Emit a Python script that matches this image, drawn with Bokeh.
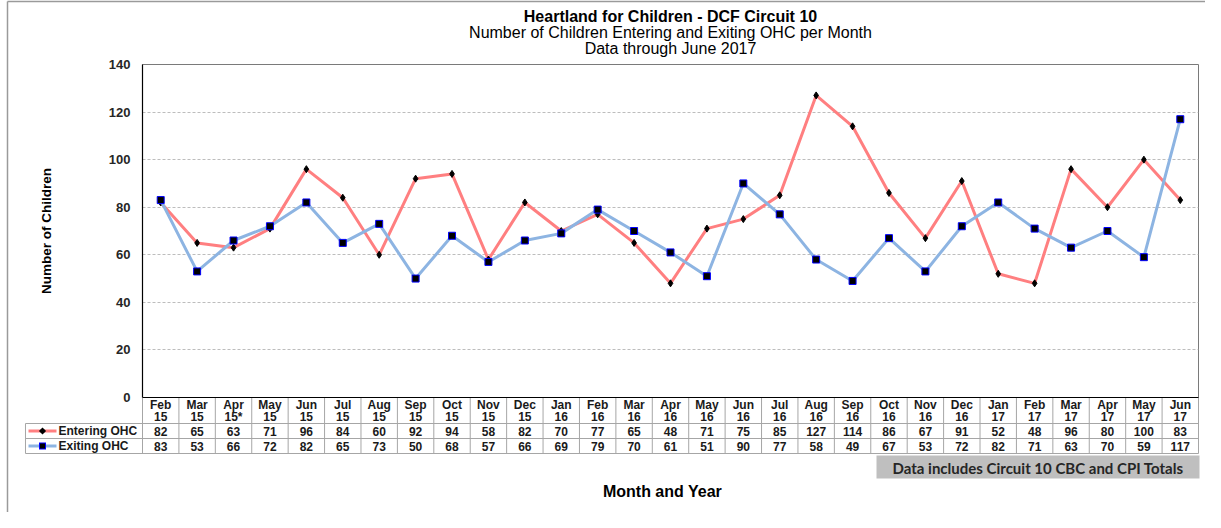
import math
from bokeh.plotting import figure
from bokeh.models import Range1d, FactorRange, ColumnDataSource
from bokeh.embed import file_html
from bokeh.resources import INLINE
from bokeh.core.properties import value

# ---------------- data ----------------
months = ["Feb 15", "Mar 15", "Apr 15*", "May 15", "Jun 15", "Jul 15", "Aug 15", "Sep 15",
          "Oct 15", "Nov 15", "Dec 15", "Jan 16", "Feb 16", "Mar 16", "Apr 16", "May 16",
          "Jun 16", "Jul 16", "Aug 16", "Sep 16", "Oct 16", "Nov 16", "Dec 16", "Jan 17",
          "Feb 17", "Mar 17", "Apr 17", "May 17", "Jun 17"]
entering = [82, 65, 63, 71, 96, 84, 60, 92, 94, 58, 82, 70, 77, 65, 48, 71, 75, 85,
            127, 114, 86, 67, 91, 52, 48, 96, 80, 100, 83]
exiting = [83, 53, 66, 72, 82, 65, 73, 50, 68, 57, 66, 69, 79, 70, 61, 51, 90, 77,
           58, 49, 67, 53, 72, 82, 71, 63, 70, 59, 117]
series_names = ["Entering OHC", "Exiting OHC"]
y_ticks = [0, 20, 40, 60, 80, 100, 120, 140]

title_lines = ["Heartland for Children - DCF Circuit 10",
               "Number of Children Entering and Exiting OHC per Month",
               "Data through June 2017"]
y_title = "Number of Children"
x_title = "Month and Year"
note = "Data includes Circuit 10 CBC and CPI Totals"

# ---------------- style / layout ----------------
FONT = "Liberation Sans"
RED = "#ff7f80"
BLUE = "#8db4e2"
GRID = "#bdbdbd"
TABLE_LINE = "#a6a6a6"
TXT = "#1a1a1a"

W, H = 1205, 512
XL, XR, YT, YB = 142, 1198, 64, 397   # plot frame in pixels
YMAX = 140
n = len(months)
col_px = (XR - XL) / n
y_px = (YB - YT) / YMAX


def px2x(px):
    return (px - XL) / col_px


def py2y(py):
    return (YB - py) / y_px


p = figure(width=W, height=H, x_range=FactorRange(*months), y_range=Range1d(0, YMAX),
           output_backend="svg", toolbar_location=None, title=None,
           x_axis_location=None,
           min_border_left=XL, min_border_right=W - XR,
           min_border_top=YT, min_border_bottom=H - YB)

p.outline_line_color = "#7a7a7a"
p.outline_line_width = 1
p.xgrid.grid_line_color = None
p.ygrid.grid_line_color = GRID
p.ygrid.grid_line_dash = "3 2"
p.ygrid.ticker = y_ticks
p.yaxis.ticker = y_ticks
p.yaxis.axis_line_color = "black"
p.yaxis.axis_line_width = 1.2
p.yaxis.major_tick_line_color = None
p.yaxis.minor_tick_line_color = None
p.yaxis.major_tick_out = 0
p.yaxis.major_tick_in = 0
p.yaxis.major_label_standoff = 12
p.yaxis.major_label_text_font = FONT
p.yaxis.major_label_text_font_style = "bold"
p.yaxis.major_label_text_font_size = "13px"
p.yaxis.major_label_text_color = "#262626"
p.yaxis.axis_label = y_title
p.yaxis.axis_label_text_font = FONT
p.yaxis.axis_label_text_font_style = "bold"
p.yaxis.axis_label_text_font_size = "13.5px"
p.yaxis.axis_label_text_color = "black"
p.yaxis.axis_label_standoff = 52

# ---------------- series ----------------
src = ColumnDataSource(dict(month=months, entering=entering, exiting=exiting))
p.line("month", "entering", source=src, line_color=RED, line_width=3)
p.scatter("month", "entering", source=src, marker="diamond", size=7,
          fill_color="black", line_color="black")
p.line("month", "exiting", source=src, line_color=BLUE, line_width=3)
p.scatter("month", "exiting", source=src, marker="square", size=7,
          fill_color="black", line_color="#0000ff", line_width=1)

OV = dict(level="overlay")

# ---------------- titles ----------------
for txt, style, py in [(title_lines[0], "bold", 16), (title_lines[1], "normal", 32),
                       (title_lines[2], "normal", 48)]:
    p.text(x=[n / 2], y=[py2y(py)], text=[txt], text_align="center", text_baseline="middle",
           text_font=value(FONT), text_font_style=style, text_font_size="16px",
           text_color="black", **OV)

# ---------------- data table ----------------
HDR_B, R1_B, R2_B = 423, 438, 453
xs = [i + 0.5 for i in range(n)]
mon = [m.split()[0] for m in months]
yr = [m.split()[1] for m in months]

bounds = list(range(n + 1))
t_top, t_bot = py2y(YB), py2y(R2_B)
p.segment(x0=bounds, y0=[t_top] * len(bounds), x1=bounds, y1=[t_bot] * len(bounds),
          line_color=TABLE_LINE, line_width=1, **OV)
left = px2x(25)
hy = [py2y(HDR_B), py2y(R1_B), py2y(R2_B)]
p.segment(x0=[left] * 3, y0=hy, x1=[n] * 3, y1=hy, line_color=TABLE_LINE, line_width=1, **OV)
p.segment(x0=[left], y0=[hy[0]], x1=[left], y1=[hy[2]], line_color=TABLE_LINE, line_width=1,
          **OV)
p.segment(x0=[0], y0=[0], x1=[n], y1=[0], line_color="black", line_width=1.2, **OV)

common = dict(text_font=value(FONT), text_font_style="bold", text_font_size="12px",
              text_color=TXT, text_baseline="middle")
p.text(x=xs, y=[py2y(404.5)] * n, text=mon, text_align="center", **common, **OV)
p.text(x=xs, y=[py2y(416)] * n, text=yr, text_align="center", **common, **OV)
ry = [py2y((HDR_B + R1_B) / 2), py2y((R1_B + R2_B) / 2)]
p.text(x=xs, y=[ry[0]] * n, text=[str(v) for v in entering], text_align="center",
       **common, **OV)
p.text(x=xs, y=[ry[1]] * n, text=[str(v) for v in exiting], text_align="center",
       **common, **OV)

# legend keys (line + marker sample), drawn with segments so they are not culled
KX = 42
p.segment(x0=[px2x(28)] * 2, y0=ry, x1=[px2x(56)] * 2, y1=ry,
          line_color=[RED, BLUE], line_width=3, **OV)
d = 1.8  # half diagonal run of the diamond sample, px
p.segment(x0=[px2x(KX - d)], y0=[ry[0] - d / y_px], x1=[px2x(KX + d)], y1=[ry[0] + d / y_px],
          line_color="black", line_width=2 * d * math.sqrt(2), **OV)
p.segment(x0=[px2x(KX - 3.5)], y0=[ry[1]], x1=[px2x(KX + 3.5)], y1=[ry[1]],
          line_color="#0000ff", line_width=7, **OV)
p.segment(x0=[px2x(KX - 2.5)], y0=[ry[1]], x1=[px2x(KX + 2.5)], y1=[ry[1]],
          line_color="black", line_width=5, **OV)
p.text(x=[px2x(58)] * 2, y=ry, text=series_names, text_align="left", **common, **OV)

# note box
p.quad(left=[px2x(876)], right=[px2x(1199)], top=[py2y(455)], bottom=[py2y(478)],
       fill_color="#bfbfbf", line_color=None, **OV)
p.text(x=[px2x(1037.5)], y=[py2y(467)], text=[note], text_align="center",
       text_baseline="middle", text_font=value("Lato"), text_font_style="bold",
       text_font_size="15px", text_color="#262626", **OV)

# x title
p.text(x=[px2x(662)], y=[py2y(491)], text=[x_title], text_align="center",
       text_baseline="middle", text_font=value(FONT), text_font_style="bold",
       text_font_size="16px", text_color="black", **OV)

# outer chart border
p.segment(x0=[px2x(7), px2x(7)], y0=[py2y(1), py2y(1)], x1=[px2x(W), px2x(7)],
          y1=[py2y(1), py2y(H)], line_color="#9a9a9a", line_width=1.5, **OV)

open("out.html", "w").write(file_html(p, INLINE))
